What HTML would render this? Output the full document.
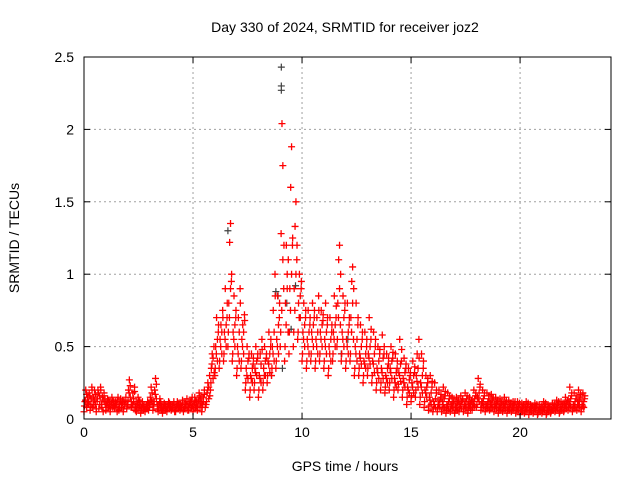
<!DOCTYPE html>
<html><head><meta charset="utf-8"><style>
body{margin:0;background:#fff;}
svg text{font-family:"Liberation Sans",sans-serif;font-size:14px;fill:#000;}
</style></head><body>
<svg id="chart" width="640" height="480" xmlns="http://www.w3.org/2000/svg">
<rect width="640" height="480" fill="#fff"/>
<g id="grid"></g><g id="black"></g><g id="red"></g><g id="axes"></g>
<text x="345" y="32" text-anchor="middle">Day 330 of 2024, SRMTID for receiver joz2</text>
<text x="345" y="471" text-anchor="middle">GPS time / hours</text>
<text transform="translate(19,238) rotate(-90)" text-anchor="middle">SRMTID / TECUs</text>
</svg>
<script>
const xTicks=[0,5,10,15,20];
const yTicks=[0,0.5,1,1.5,2,2.5];
const yTickLabels=["0","0.5","1","1.5","2","2.5"];
const redTimes=[0,0.2,0.4,0.6,0.8,1,1.2,1.4,1.6,1.8,2,2.2,2.4,2.6,2.8,3,3.2,3.4,3.6,3.8,4,4.2,4.4,4.6,4.8,5,5.2,5.4,5.6,5.8,6,6.2,6.4,6.6,6.8,7,7.2,7.4,7.6,7.8,8,8.2,8.4,8.6,8.8,9,9.2,9.4,9.6,9.8,10,10.2,10.4,10.6,10.8,11,11.2,11.4,11.6,11.8,12,12.2,12.4,12.6,12.8,13,13.2,13.4,13.6,13.8,14,14.2,14.4,14.6,14.8,15,15.2,15.4,15.6,15.8,16,16.2,16.4,16.6,16.8,17,17.2,17.4,17.6,17.8,18,18.2,18.4,18.6,18.8,19,19.2,19.4,19.6,19.8,20,20.2,20.4,20.6,20.8,21,21.2,21.4,21.6,21.8,22,22.2,22.4,22.6,22.8];
const redValues=[
[.05,.12,.2,.08,.15],[.1,.18,.06,.14,.22],[.08,.15,.2,.1,.05],[.12,.2,.07,.16,.22],[.1,.15,.05,.18,.12],
[.06,.1,.14,.08,.12],[.05,.1,.15,.08,.12],[.07,.12,.1,.05,.15],[.06,.1,.14,.08,.11],[.05,.12,.09,.15,.07],
[.1,.2,.27,.15,.08],[.08,.18,.12,.22,.06],[.05,.1,.15,.08,.12],[.04,.08,.12,.06,.1],[.05,.09,.07,.12,.06],
[.08,.15,.22,.12,.06],[.1,.2,.28,.14,.07],[.05,.1,.14,.08,.06],[.04,.08,.11,.06,.09],[.05,.09,.12,.07,.1],
[.06,.1,.08,.12,.05],[.05,.09,.12,.07,.1],[.06,.1,.08,.13,.05],[.07,.11,.09,.14,.06],[.06,.1,.12,.08,.15],
[.05,.1,.15,.08,.12],[.06,.12,.18,.09,.14],[.05,.1,.15,.2,.08],[.1,.18,.25,.14,.3],[.2,.35,.45,.28,.5],
[.3,.5,.7,.4,.6],[.35,.55,.65,.45,.75],[.4,.6,.9,.5,.7],[.5,.8,1.22,1.35,.95],[.4,.6,.85,.5,.7],
[.3,.5,.7,.4,.9],[.35,.55,.65,.45,.72],[.2,.35,.5,.28,.42],[.15,.3,.45,.25,.38],[.2,.35,.5,.3,.42],
[.15,.3,.45,.25,.55],[.2,.35,.5,.3,.42],[.25,.4,.6,.32,.5],[.3,.5,.75,.4,1.0],[.35,.55,.85,.45,.7],
[.5,1.28,2.04,1.75,.9],[.4,.8,1.2,1.0,.6],[.45,.9,1.6,1.88,1.2],[.5,.9,1.33,1.5,1.1],[.55,.8,1.0,.7,.9],
[.4,.6,.8,.5,.7],[.35,.55,.75,.45,.65],[.4,.6,.8,.5,.7],[.35,.55,.7,.45,.85],[.4,.6,.75,.5,.68],
[.35,.55,.8,.45,.65],[.3,.5,.7,.4,.6],[.4,.6,.85,.5,.7],[.5,.8,1.1,1.2,.65],[.4,.6,.85,.5,.75],
[.35,.55,.8,.45,.65],[.4,.7,.95,1.05,.55],[.3,.5,.8,.4,.65],[.3,.45,.65,.38,.55],[.25,.4,.6,.35,.5],
[.3,.45,.7,.38,.55],[.25,.4,.6,.32,.5],[.2,.35,.5,.28,.45],[.2,.35,.58,.28,.45],[.18,.3,.45,.25,.38],
[.2,.35,.5,.28,.42],[.15,.28,.45,.22,.35],[.2,.32,.55,.26,.4],[.15,.28,.42,.22,.35],[.1,.22,.35,.18,.3],
[.12,.25,.4,.18,.32],[.15,.3,.45,.22,.55],[.1,.25,.45,.18,.35],[.08,.2,.3,.15,.25],[.06,.15,.3,.1,.22],
[.05,.12,.25,.08,.18],[.05,.1,.2,.08,.15],[.05,.12,.22,.08,.16],[.04,.1,.18,.07,.14],[.05,.1,.15,.08,.12],
[.04,.09,.15,.06,.12],[.05,.1,.16,.07,.13],[.05,.1,.18,.08,.14],[.04,.1,.15,.07,.12],[.06,.12,.2,.09,.16],
[.08,.15,.28,.12,.22],[.06,.12,.2,.09,.16],[.05,.1,.18,.08,.14],[.06,.11,.17,.08,.14],[.05,.1,.15,.07,.12],
[.04,.09,.14,.06,.11],[.05,.1,.15,.07,.12],[.04,.08,.13,.06,.1],[.05,.09,.12,.07,.11],[.04,.08,.12,.06,.1],
[.03,.07,.11,.05,.09],[.04,.08,.12,.06,.1],[.03,.07,.1,.05,.09],[.04,.08,.11,.06,.09],[.03,.06,.1,.05,.08],
[.04,.08,.12,.06,.1],[.03,.07,.1,.05,.08],[.04,.07,.11,.06,.09],[.05,.09,.13,.07,.11],[.04,.08,.12,.06,.1],
[.05,.1,.15,.07,.12],[.06,.12,.22,.09,.16],[.05,.1,.18,.08,.14],[.06,.12,.2,.09,.15],[.05,.1,.18,.08,.14]];
const redValues2=[
[.09,.13,.17,.11],[.12,.16,.09,.2],[.1,.13,.17,.07],[.14,.18,.1,.2],[.08,.13,.16,.1],
[.08,.11,.13,.09],[.07,.11,.13,.09],[.09,.11,.13,.07],[.08,.12,.1,.13],[.07,.1,.13,.09],
[.13,.18,.23,.12],[.1,.14,.19,.09],[.07,.11,.13,.09],[.06,.1,.09,.07],[.07,.1,.08,.11],
[.1,.13,.18,.09],[.12,.17,.24,.1],[.07,.11,.12,.09],[.06,.09,.1,.07],[.07,.1,.11,.08],
[.07,.09,.11,.08],[.07,.1,.11,.08],[.08,.09,.11,.07],[.08,.1,.12,.09],[.08,.11,.13,.09],
[.07,.11,.13,.09],[.08,.13,.16,.11],[.08,.12,.17,.1],[.12,.2,.22,.16],[.25,.38,.42,.32],
[.35,.45,.55,.65],[.4,.5,.6,.7],[.45,.55,.65,.8],[.6,.7,.9,1.0],[.45,.55,.65,.75],
[.35,.45,.6,.8],[.4,.5,.6,.68],[.25,.3,.4,.45],[.2,.28,.35,.42],[.25,.32,.4,.45],
[.2,.28,.38,.48],[.25,.3,.4,.45],[.3,.38,.45,.55],[.35,.45,.6,.85],[.4,.5,.65,.8],
[.6,.75,1.1,1.2],[.5,.65,.9,1.1],[.6,.75,1.0,1.25],[.6,.75,1.0,1.2],[.6,.7,.85,.95],
[.45,.55,.65,.75],[.4,.5,.6,.7],[.45,.55,.65,.75],[.4,.5,.6,.75],[.45,.55,.65,.72],
[.4,.5,.6,.7],[.35,.45,.55,.65],[.45,.55,.65,.78],[.55,.7,.9,1.0],[.45,.55,.7,.8],
[.4,.5,.6,.7],[.45,.6,.8,.9],[.35,.45,.55,.7],[.35,.42,.5,.6],[.3,.38,.45,.55],
[.35,.42,.5,.62],[.3,.38,.45,.55],[.25,.32,.4,.48],[.25,.32,.42,.5],[.22,.28,.35,.42],
[.25,.32,.4,.46],[.2,.25,.32,.4],[.24,.3,.38,.48],[.2,.25,.32,.38],[.15,.2,.27,.32],
[.16,.22,.3,.36],[.2,.26,.35,.42],[.15,.22,.3,.4],[.12,.18,.22,.28],[.09,.13,.18,.26],
[.07,.1,.14,.2],[.07,.1,.13,.17],[.07,.1,.14,.19],[.06,.09,.12,.16],[.07,.09,.11,.14],
[.06,.08,.11,.13],[.07,.09,.12,.14],[.07,.09,.12,.16],[.06,.09,.11,.13],[.08,.1,.14,.18],
[.1,.14,.18,.24],[.08,.11,.14,.18],[.07,.09,.12,.16],[.07,.1,.13,.15],[.07,.09,.11,.13],
[.06,.08,.1,.12],[.07,.09,.11,.13],[.06,.07,.09,.11],[.06,.08,.1,.12],[.06,.07,.09,.11],
[.05,.06,.08,.1],[.05,.07,.09,.11],[.05,.06,.08,.09],[.05,.07,.09,.1],[.04,.06,.07,.09],
[.05,.07,.09,.11],[.04,.06,.08,.09],[.05,.06,.08,.1],[.06,.08,.1,.12],[.05,.07,.09,.11],
[.06,.09,.11,.13],[.08,.1,.14,.18],[.07,.09,.12,.16],[.08,.1,.13,.17],[.07,.09,.12,.16]];
const blackTimes=[9.05,9.05,9.05,8.8,8.9,9.5,9.1,6.6,9.7,11.8,12.1,8.6,9.3];
const blackValues=[2.43,2.3,2.27,0.88,0.85,0.62,0.35,1.3,0.92,0.45,0.55,0.3,0.8];

const L=84,R=611,T=57,B=419,XMAX=24.17,YMAX=2.5;
const xs=v=>L+v/XMAX*(R-L), ys=v=>B-v/YMAX*(B-T);
const NS="http://www.w3.org/2000/svg";
function mk(tag,attrs,parent){const e=document.createElementNS(NS,tag);for(const k in attrs)e.setAttribute(k,attrs[k]);parent.appendChild(e);return e;}
const grid=document.getElementById('grid'),axes=document.getElementById('axes');
xTicks.forEach(t=>{const x=xs(t);
 if(t>0){const g=mk('line',{x1:x,x2:x,y1:T,y2:B,stroke:'#a0a0a0','stroke-dasharray':'2,3'},grid);
 
 }
 mk('line',{x1:x,x2:x,y1:B,y2:B-6,stroke:'#000'},axes);mk('line',{x1:x,x2:x,y1:T,y2:T+6,stroke:'#000'},axes);
 const tx=mk('text',{x:x,y:B+18,'text-anchor':'middle'},axes);tx.textContent=t;
 
 
});
yTicks.forEach((t,i)=>{const y=ys(t);
 if(t>0&&t<YMAX){const g=mk('line',{x1:L,x2:R,y1:y,y2:y,stroke:'#a0a0a0','stroke-dasharray':'2,3'},grid);
 
 }
 mk('line',{x1:L,x2:L+6,y1:y,y2:y,stroke:'#000'},axes);mk('line',{x1:R,x2:R-6,y1:y,y2:y,stroke:'#000'},axes);
 const tx=mk('text',{x:L-10,y:y+5,'text-anchor':'end'},axes);tx.textContent=yTickLabels[i];
 
 
});
const frame=mk('rect',{x:L,y:T,width:R-L,height:B-T,fill:'none',stroke:'#000'},axes);


function plus(x,y){return `M${x-3.5},${y}h7M${x},${y-3.5}v7`;}
let db='';blackTimes.forEach((t,i)=>{db+=plus(xs(t),ys(blackValues[i]));});
const bp=mk('path',{d:db,stroke:'#404040','stroke-width':1.2,fill:'none'},document.getElementById('black'));


let dr='';
redTimes.forEach((t,i)=>{
 redValues[i].forEach((v,k)=>{dr+=plus(xs(t+k*0.04),ys(v));});
 redValues2[i].forEach((v,k)=>{dr+=plus(xs(t+0.02+k*0.05),ys(v));});
});
const rp=mk('path',{d:dr,stroke:'#ff0000','stroke-width':1.3,fill:'none'},document.getElementById('red'));


</script>
</body></html>
